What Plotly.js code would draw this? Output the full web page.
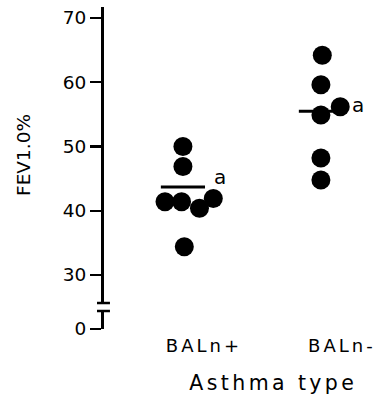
<!DOCTYPE html>
<html>
<head>
<meta charset="utf-8">
<script src="https://cdn.plot.ly/plotly-3.0.1.min.js"></script>
<style>
  html, body { margin: 0; padding: 0; background: #fff; }
  #chart { width: 383px; height: 402px; }
  .xtick text { letter-spacing: 3px; }
  .annotation[data-index="0"] text { letter-spacing: 3.4px; }
</style>
</head>
<body>
<div id="chart"></div>
<script>
// ---- data ----
const categories = ["BALn+", "BALn-"];
const fevBALnPos = [50.0, 46.9, 41.4, 41.4, 40.4, 41.9, 34.4];
const jitterBALnPos = [0, 0, -0.13, -0.01, 0.12, 0.22, 0.01];
const fevBALnNeg = [64.2, 59.6, 54.9, 56.2, 48.2, 44.8];
const jitterBALnNeg = [0.01, 0, 0, 0.14, 0, 0];
const groupMeans = [43.7, 55.5];
const sigLetters = ["a", "a"];
const sigLetterY = [45.2, 56.5];
const upperTicks = [30, 40, 50, 60, 70];
const lowerTicks = [0];

// ---- build ----
const font = "DejaVu Sans, sans-serif";
const groups = [fevBALnPos, fevBALnNeg];
const jitters = [jitterBALnPos, jitterBALnNeg];
const traces = [];
groups.forEach((vals, g) => {
  traces.push({
    type: "scatter", mode: "markers",
    x: vals.map((v, i) => g + jitters[g][i]), y: vals,
    xaxis: "x", yaxis: "y",
    marker: { color: "#000", size: 19, line: { width: 0 } },
    cliponaxis: false, showlegend: false, hoverinfo: "skip"
  });
  traces.push({
    type: "scatter", mode: "lines",
    x: [g - 0.16, g + 0.16], y: [groupMeans[g], groupMeans[g]],
    xaxis: "x", yaxis: "y",
    line: { color: "#000", width: 3 },
    cliponaxis: false, showlegend: false, hoverinfo: "skip"
  });
});
// empty trace so the broken-off lower axis segment is drawn
traces.push({ type: "scatter", mode: "markers", x: [null], y: [null],
  xaxis: "x", yaxis: "y2", showlegend: false, hoverinfo: "skip" });

const annotations = [{
  text: "Asthma type", xref: "paper", yref: "paper",
  x: 0.655, y: -0.168, xanchor: "center", yanchor: "middle",
  showarrow: false, font: { family: font, size: 20.5, color: "#000" }
}];
sigLetters.forEach((t, g) => annotations.push({
  text: t, xref: "x", yref: "y", x: g + 0.27, y: sigLetterY[g],
  showarrow: false, font: { family: font, size: 20, color: "#000" }
}));

const axisCommon = {
  showline: true, linecolor: "#000", linewidth: 3,
  ticks: "outside", ticklen: 11, tickwidth: 2.5, tickcolor: "#000",
  showgrid: false, zeroline: false, fixedrange: true,
  tickfont: { family: font, size: 18.5, color: "#000" }, anchor: "x"
};

const layout = {
  width: 383, height: 402,
  margin: { l: 104, r: 20, t: 7, b: 73 },
  paper_bgcolor: "#fff", plot_bgcolor: "#fff",
  showlegend: false,
  xaxis: {
    anchor: "y2", range: [-0.572, 1.305],
    tickvals: categories.map((c, i) => i), ticktext: categories,
    showline: false, ticks: "", showgrid: false, zeroline: false,
    ticklabelshift: 21, ticklabelstandoff: 4,
    tickfont: { family: font, size: 18, color: "#000" }
  },
  yaxis: Object.assign({}, axisCommon, {
    domain: [0.0807, 1], range: [25.64, 71.71], tickvals: upperTicks,
    title: { text: "FEV1.0%", font: { family: font, size: 18.5, color: "#000" }, standoff: 28 }
  }),
  yaxis2: Object.assign({}, axisCommon, {
    domain: [0, 0.0559], range: [0, 2.8], tickvals: lowerTicks
  }),
  shapes: [
    { type: "line", xref: "paper", yref: "y domain", x0: -0.027, x1: 0.023, y0: 0, y1: 0,
      line: { color: "#000", width: 2.5 } },
    { type: "line", xref: "paper", yref: "y2 domain", x0: -0.027, x1: 0.023, y0: 1, y1: 1,
      line: { color: "#000", width: 2.5 } }
  ],
  annotations: annotations
};

Plotly.newPlot("chart", traces, layout, { staticPlot: true, displayModeBar: false });
</script>
</body>
</html>
